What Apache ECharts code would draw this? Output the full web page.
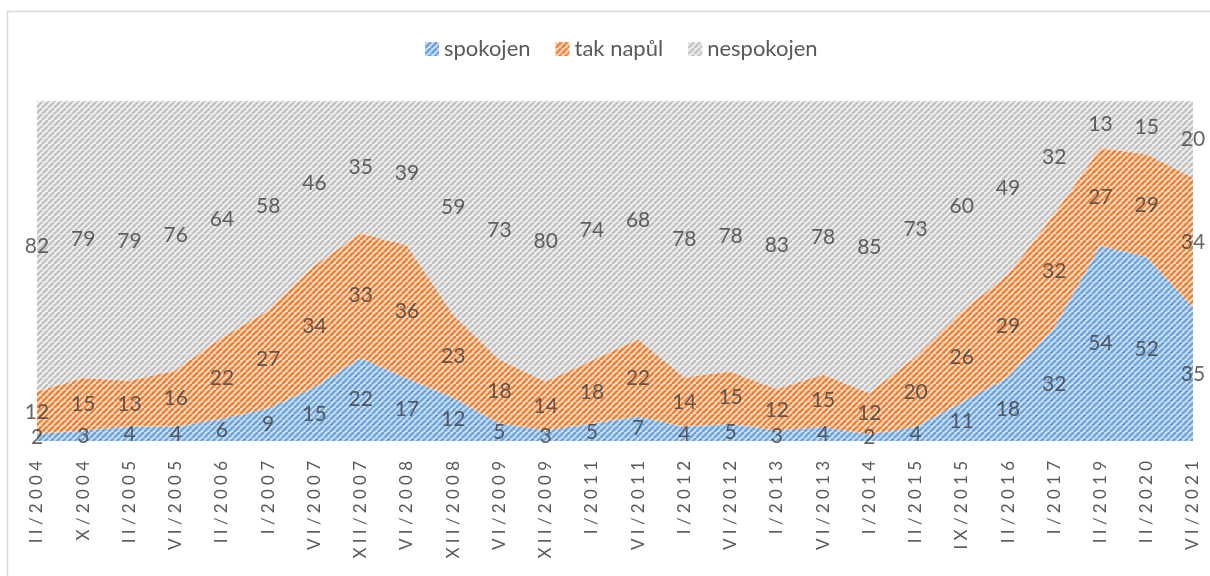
<!DOCTYPE html>
<html>
<head>
<meta charset="utf-8">
<script src="https://cdn.jsdelivr.net/npm/echarts@6/dist/echarts.min.js"></script>
<style>
  html, body { margin: 0; padding: 0; background: #fff; }
  #chart { width: 1210px; height: 576px; }
</style>
</head>
<body>
<div id="chart"></div>
<script>
// období průzkumu
var categories = ['II/2004', 'X/2004', 'II/2005', 'VI/2005', 'II/2006', 'I/2007', 'VI/2007', 'XII/2007',
  'VI/2008', 'XII/2008', 'VI/2009', 'XII/2009', 'I/2011', 'VI/2011', 'I/2012', 'VI/2012', 'I/2013',
  'VI/2013', 'I/2014', 'II/2015', 'IX/2015', 'II/2016', 'I/2017', 'II/2019', 'II/2020', 'VI/2021'];
var spokojen = [2, 3, 4, 4, 6, 9, 15, 22, 17, 12, 5, 3, 5, 7, 4, 5, 3, 4, 2, 4, 11, 18, 32, 54, 52, 35];
var takNapul = [12, 15, 13, 16, 22, 27, 34, 33, 36, 23, 18, 14, 18, 22, 14, 15, 12, 15, 12, 20, 26, 29, 32, 27, 29, 34];
var nespokojen = [82, 79, 79, 76, 64, 58, 46, 35, 39, 59, 73, 80, 74, 68, 78, 78, 83, 78, 85, 73, 60, 49, 32, 13, 15, 20];

// šrafování jako v excelu
function hatch(bg, fg) {
  var n = 6;
  var c = document.createElement('canvas');
  c.width = n; c.height = n;
  var ctx = c.getContext('2d');
  ctx.fillStyle = bg;
  ctx.fillRect(0, 0, n, n);
  ctx.strokeStyle = fg;
  ctx.lineWidth = 2.5;
  for (var k = -1; k <= 1; k++) {
    ctx.beginPath();
    ctx.moveTo(k * n, n);
    ctx.lineTo(k * n + n, 0);
    ctx.stroke();
  }
  return { image: c, repeat: 'repeat' };
}
var blueFill = hatch('#cfe1f4', '#6ca4db');
var orangeFill = hatch('#fde1cc', '#ee8136');
var grayFill = hatch('#f2f2f2', '#c2c2c2');

// 100% skládání
var totals = spokojen.map(function (v, i) { return v + takNapul[i] + nespokojen[i]; });
function pct(arr) { return arr.map(function (v, i) { return v / totals[i] * 100; }); }
var pS = pct(spokojen), pT = pct(takNapul), pN = pct(nespokojen);
var midS = pS.map(function (v) { return v / 2; });
var midT = pT.map(function (v, i) { return pS[i] + v / 2; });
var midN = pN.map(function (v, i) { return pS[i] + pT[i] + v / 2; });

var chart = echarts.init(document.getElementById('chart'));

function areaSeries(name, data, fill) {
  return {
    name: name,
    type: 'line',
    stack: 'a',
    data: data,
    symbol: 'none',
    lineStyle: { width: 0 },
    itemStyle: { color: fill },
    areaStyle: { color: fill, opacity: 1 },
    emphasis: { disabled: true },
    z: 2
  };
}
function labelSeries(data, raw) {
  return {
    type: 'scatter',
    data: data,
    symbolSize: 1,
    itemStyle: { color: 'rgba(0,0,0,0)' },
    label: {
      show: true,
      position: 'inside',
      fontFamily: 'Lato',
      fontSize: 21,
      color: '#404040',
      formatter: function (p) { return raw[p.dataIndex]; }
    },
    silent: true,
    z: 5
  };
}

var option = {
  animation: false,
  graphic: [{
    type: 'rect',
    shape: { x: 7.5, y: 11.5, width: 1220, height: 600 },
    style: { fill: 'none', stroke: '#d9d9d9', lineWidth: 1.5 },
    silent: true
  }],
  legend: {
    top: 33,
    left: 420,
    itemWidth: 14,
    itemHeight: 14,
    itemGap: 25,
    icon: 'rect',
    data: ['spokojen', 'tak napůl', 'nespokojen'],
    textStyle: { fontFamily: 'Lato', fontSize: 22, color: '#595959' }
  },
  grid: { left: 37, right: 17, top: 101, bottom: 135, outerBoundsMode: 'none' },
  xAxis: {
    type: 'category',
    boundaryGap: false,
    data: categories,
    axisLine: { show: false },
    axisTick: { show: false },
    axisLabel: {
      rotate: 90,
      interval: 0,
      margin: 20,
      fontFamily: 'Lato',
      fontSize: 17,
      color: '#595959',
      formatter: function (v) { return v.split('').join('\u2005'); }
    }
  },
  yAxis: {
    type: 'value',
    min: 0,
    max: 100,
    show: false,
    splitLine: { show: false }
  },
  series: [
    areaSeries('spokojen', pS, blueFill),
    areaSeries('tak napůl', pT, orangeFill),
    areaSeries('nespokojen', pN, grayFill),
    labelSeries(midS, spokojen),
    labelSeries(midT, takNapul),
    labelSeries(midN, nespokojen)
  ]
};
chart.setOption(option);
</script>
</body>
</html>
